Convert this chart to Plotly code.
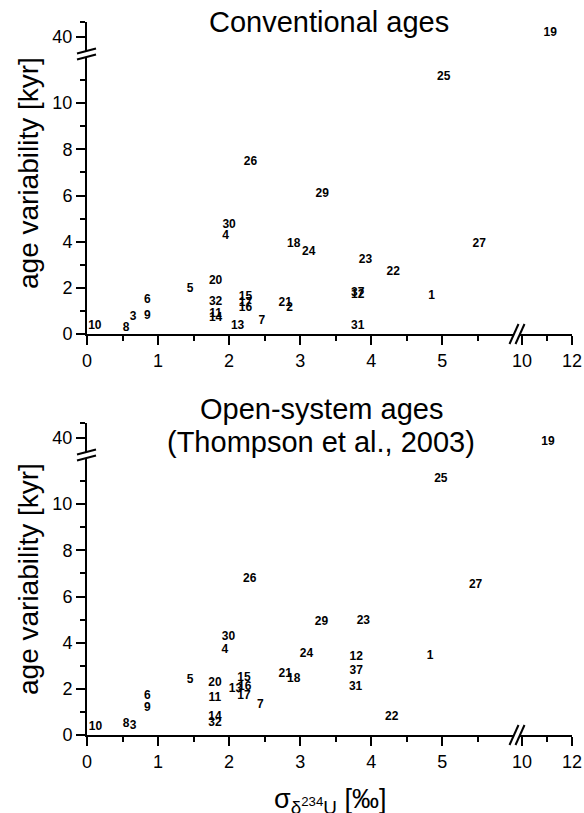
import plotly.graph_objects as go

W, H = 584, 813

# ---------------- data ----------------
labels_conv = ["1", "2", "3", "4", "5", "6", "7", "8", "9", "10", "11", "12", "13", "14", "15", "16",
               "17", "18", "19", "20", "21", "22", "23", "24", "25", "26", "27", "29", "30", "31", "32", "37"]
x_conv = [4.85, 2.85, 0.65, 1.95, 1.45, 0.85, 2.46, 0.55, 0.85, 0.11, 1.81, 3.81, 2.12, 1.81, 2.23, 2.23,
          2.23, 2.91, 11.13, 1.81, 2.79, 4.31, 3.92, 3.12, 5.02, 2.30, 5.52, 3.31, 2.00, 3.81, 1.81, 3.81]
y_conv = [1.65, 1.11, 0.75, 4.24, 1.96, 1.46, 0.55, 0.27, 0.77, 0.36, 0.87, 1.69, 0.36, 0.69, 1.62, 1.11,
          1.36, 3.91, 40.23, 2.31, 1.33, 2.68, 3.19, 3.54, 11.15, 7.43, 3.88, 6.05, 4.73, 0.35, 1.40, 1.78]

labels_open = ["1", "3", "4", "5", "6", "7", "8", "9", "10", "11", "12", "13", "14", "15", "16", "17",
               "18", "19", "20", "21", "22", "23", "24", "25", "26", "27", "29", "30", "31", "32", "37"]
x_open = [4.83, 0.65, 1.94, 1.45, 0.85, 2.44, 0.55, 0.85, 0.12, 1.80, 3.79, 2.09, 1.80, 2.21, 2.22, 2.21,
          2.91, 11.04, 1.80, 2.79, 4.29, 3.89, 3.09, 4.98, 2.29, 5.47, 3.30, 1.99, 3.78, 1.80, 3.79]
y_open = [3.44, 0.40, 3.70, 2.40, 1.71, 1.31, 0.46, 1.15, 0.35, 1.60, 3.37, 2.00, 0.79, 2.48, 2.09, 1.70,
          2.42, 39.72, 2.25, 2.66, 0.76, 4.95, 3.50, 11.10, 6.77, 6.49, 4.88, 4.23, 2.09, 0.53, 2.79]

x_major_low = [0, 1, 2, 3, 4, 5]
x_minor_low = [0.5, 1.5, 2.5, 3.5, 4.5, 5.5]
x_major_high = [10, 12]
x_minor_high = [11]
y_major_low = [0, 2, 4, 6, 8, 10]
y_minor_low = [1, 3, 5, 7, 9, 11]
y_major_high = [40]
y_minor_high = [41]

x_range_low = [0, 6.01]
x_range_high = [9.92, 12.0]
y_range_low = [0, 12.0]
y_range_high = [39, 41]

# ---------------- layout helpers (pixel -> paper) ----------------
def px(p):
    return p / W

def py(p):
    return 1 - p / H

FONT = "Arial, Liberation Sans, sans-serif"

fig = go.Figure()

def add_panel(labels, xs, ys, axes):
    xa, xb, ya, yb = axes
    lo = [(l, x, y) for l, x, y in zip(labels, xs, ys) if x < 9]
    hi = [(l, x, y) for l, x, y in zip(labels, xs, ys) if x >= 9]
    for grp, xr, yr in ((lo, xa, ya), (hi, xb, yb)):
        fig.add_trace(go.Scatter(
            x=[g[1] for g in grp], y=[g[2] for g in grp], text=[g[0] for g in grp],
            mode="text", textposition="middle center",
            textfont=dict(family=FONT, size=12, color="black", weight="bold"),
            xaxis=xr, yaxis=yr, showlegend=False, cliponaxis=False, hoverinfo="skip"))

add_panel(labels_conv, x_conv, y_conv, ("x", "x2", "y", "y2"))
add_panel(labels_open, x_open, y_open, ("x3", "x4", "y3", "y4"))

tickfont = dict(family=FONT, size=18, color="black")
common = dict(showgrid=False, zeroline=False, showline=True, linecolor="black", linewidth=2,
              ticks="outside", ticklen=9, tickwidth=2, tickcolor="black", tickfont=tickfont,
              fixedrange=True, automargin=False)

def minor_cfg(vals):
    return dict(tickmode="array", tickvals=vals, ticks="outside", ticklen=5,
                tickwidth=2, tickcolor="black", showgrid=False)

def xaxis_cfg(domain_px, rng, major, minor, anchor):
    return dict(common, domain=[px(domain_px[0]), px(domain_px[1])], range=rng,
                tickmode="array", tickvals=major, ticktext=[str(v) for v in major],
                minor=minor_cfg(minor), anchor=anchor)

def yaxis_cfg(domain_px, rng, major, minor, anchor):
    return dict(common, domain=[py(domain_px[0]), py(domain_px[1])], range=rng,
                tickmode="array", tickvals=major, ticktext=[str(v) for v in major],
                minor=minor_cfg(minor), anchor=anchor)

OFF = 401  # vertical offset of lower panel
y0_top, ybreak_lo, ybreak_hi, ytop = 334, 57, 51, 22
layout_axes = dict(
    xaxis=xaxis_cfg((87, 514), x_range_low, x_major_low, x_minor_low, "y"),
    xaxis2=xaxis_cfg((520, 572), x_range_high, x_major_high, x_minor_high, "y"),
    yaxis=yaxis_cfg((y0_top, ybreak_lo), y_range_low, y_major_low, y_minor_low, "x"),
    yaxis2=yaxis_cfg((ybreak_hi, ytop), y_range_high, y_major_high, y_minor_high, "x"),
    xaxis3=xaxis_cfg((87, 514), x_range_low, x_major_low, x_minor_low, "y3"),
    xaxis4=xaxis_cfg((520, 572), x_range_high, x_major_high, x_minor_high, "y3"),
    yaxis3=yaxis_cfg((y0_top + OFF, ybreak_lo + OFF), y_range_low, y_major_low, y_minor_low, "x3"),
    yaxis4=yaxis_cfg((ybreak_hi + OFF, ytop + OFF), y_range_high, y_major_high, y_minor_high, "x3"),
)

shapes = []
for off in (0, OFF):
    for cx in (514, 520):
        shapes.append(dict(type="line", xref="paper", yref="paper",
                           x0=px(cx - 4.5), y0=py(y0_top + off + 10),
                           x1=px(cx + 4.5), y1=py(y0_top + off - 10),
                           line=dict(color="black", width=2)))
    for cy in (51, 57):
        shapes.append(dict(type="line", xref="paper", yref="paper",
                           x0=px(77), y0=py(cy + off + 2.5),
                           x1=px(96), y1=py(cy + off - 2.5),
                           line=dict(color="black", width=2)))

title_font = dict(family=FONT, size=29, color="black")
ytitle_font = dict(family=FONT, size=28, color="black")
annotations = [
    dict(text="Conventional ages", x=px(329), y=py(22), xref="paper", yref="paper",
         showarrow=False, font=title_font, xanchor="center", yanchor="middle"),
    dict(text="Open-system ages", x=px(321), y=py(409),
         xref="paper", yref="paper", showarrow=False, font=title_font,
         xanchor="center", yanchor="middle"),
    dict(text="(Thompson et al., 2003)", x=px(321), y=py(442),
         xref="paper", yref="paper", showarrow=False, font=title_font,
         xanchor="center", yanchor="middle"),
    dict(text="age variability [kyr]", x=px(28), y=py(173), xref="paper", yref="paper",
         showarrow=False, font=ytitle_font, textangle=-90, xanchor="center", yanchor="middle"),
    dict(text="age variability [kyr]", x=px(28), y=py(579), xref="paper", yref="paper",
         showarrow=False, font=ytitle_font, textangle=-90, xanchor="center", yanchor="middle"),
    dict(text="σ<sub>δ<sup>234</sup>U</sub> [‰]", x=px(330), y=py(801), xref="paper",
         yref="paper", showarrow=False, font=dict(family=FONT, size=27, color="black"),
         xanchor="center", yanchor="middle"),
]

fig.update_layout(
    width=W, height=H, margin=dict(l=0, r=0, t=0, b=0, autoexpand=False),
    paper_bgcolor="white", plot_bgcolor="white",
    shapes=shapes, annotations=annotations, showlegend=False,
    **layout_axes,
)

fig.write_html(
    "out.html",
    config={"displayModeBar": False, "staticPlot": True},
    post_script="document.body.style.margin='0';document.body.style.overflow='hidden';",
)
